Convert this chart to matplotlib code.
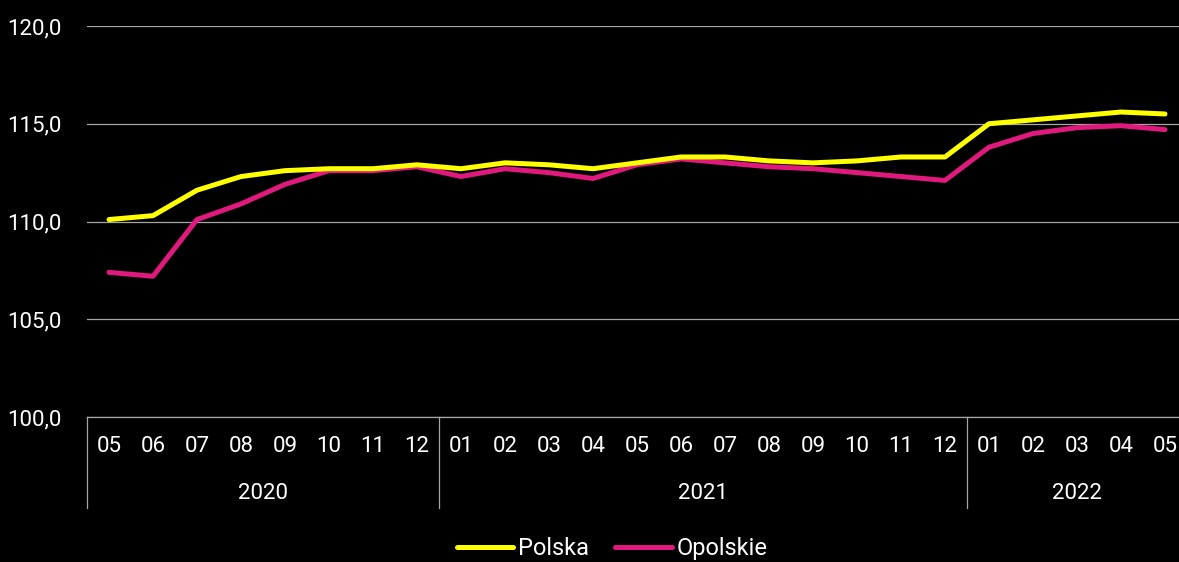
import matplotlib.pyplot as plt
import matplotlib.transforms as mtransforms
import numpy as np

plt.rcParams['font.family'] = ['Roboto', 'DejaVu Sans']

months = ['05', '06', '07', '08', '09', '10', '11', '12',
          '01', '02', '03', '04', '05', '06', '07', '08', '09', '10', '11', '12',
          '01', '02', '03', '04', '05']
years = ['2020', '2021', '2022']
year_counts = [8, 12, 5]

polska = [110.1, 110.3, 111.6, 112.3, 112.6, 112.7, 112.7, 112.9,
          112.7, 113.0, 112.9, 112.7, 113.0, 113.3, 113.3, 113.1, 113.0, 113.1, 113.3, 113.3,
          115.0, 115.2, 115.4, 115.6, 115.5]
opolskie = [107.4, 107.2, 110.1, 110.9, 111.9, 112.6, 112.6, 112.8,
            112.3, 112.7, 112.5, 112.2, 112.9, 113.2, 113.0, 112.8, 112.7, 112.5, 112.3, 112.1,
            113.8, 114.5, 114.8, 114.9, 114.7]

yticks = [100, 105, 110, 115, 120]

bg = 'black'
grid_c = '#a6a6a6'
yellow = '#ffff00'
magenta = '#e0197d'

fig = plt.figure(figsize=(11.79, 5.62), dpi=100, facecolor=bg)
ax = fig.add_axes([87 / 1179, 145 / 562, 1100 / 1179, 391 / 562], facecolor=bg)

x = np.arange(len(months))
ax.plot(x, polska, color=yellow, lw=3.6, solid_capstyle='round', label='Polska', zorder=3)
ax.plot(x, opolskie, color=magenta, lw=3.6, solid_capstyle='round', label='Opolskie', zorder=2)

ax.set_xlim(-0.5, len(months) - 0.5)
ax.set_ylim(100, 120)
ax.set_yticks(yticks)
ax.set_yticklabels([f'{v:.1f}'.replace('.', ',') for v in yticks])
ax.yaxis.grid(True, color=grid_c, lw=0.9)
ax.set_axisbelow(True)

ax.set_xticks(x)
ax.set_xticklabels(months)
ax.tick_params(axis='both', length=0, colors='white', labelsize=16)
ax.tick_params(axis='x', pad=14)
ax.tick_params(axis='y', pad=18)

for s in ['top', 'right', 'left']:
    ax.spines[s].set_visible(False)
ax.spines['bottom'].set_color(grid_c)
ax.spines['bottom'].set_linewidth(0.9)

trans = mtransforms.blended_transform_factory(ax.transData, ax.transAxes)
start = -0.5
bounds = [start]
for name, n in zip(years, year_counts):
    mid = start + n / 2
    ax.text(mid, -0.195, name, transform=trans, ha='center', va='center',
            color='white', fontsize=16)
    start += n
    bounds.append(start)
for b in bounds[:-1]:
    ax.plot([b, b], [0, -0.233], transform=trans, color=grid_c, lw=0.9, clip_on=False)

leg = fig.legend(loc='center', bbox_to_anchor=(0.519, 0.024), ncol=2, frameon=False,
                 fontsize=17, handlelength=2.4, handletextpad=0.2, columnspacing=1.1)
for t in leg.get_texts():
    t.set_color('white')

fig.savefig('out.png', dpi=100, facecolor=bg)
